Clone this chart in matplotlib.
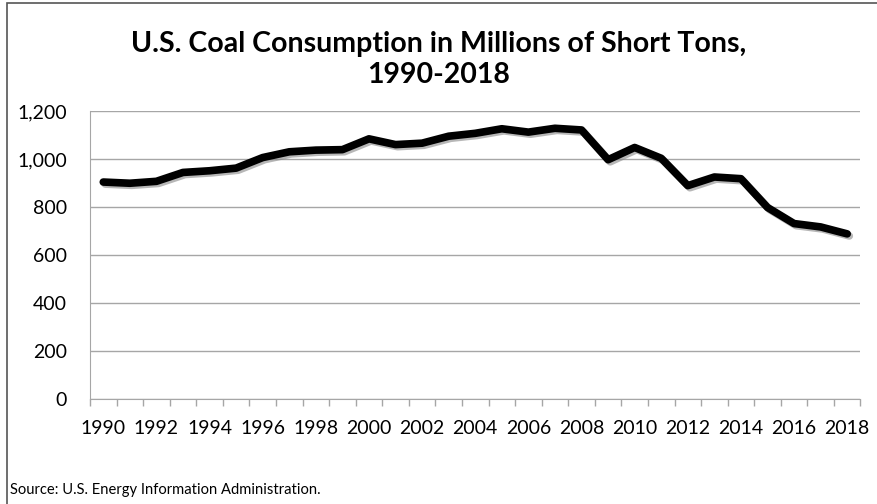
import numpy as np
import matplotlib
matplotlib.use("Agg")
import matplotlib.pyplot as plt
import matplotlib.patheffects as pe
from matplotlib.patches import Rectangle

YEARS = list(range(1990, 2019))
COAL = [904, 899, 907, 944, 951, 962, 1006, 1030, 1037, 1039,
        1084, 1060, 1066, 1095, 1107, 1126, 1112, 1128, 1121, 997,
        1048, 1003, 889, 925, 918, 798, 731, 717, 688]
Y_TICKS = [0, 200, 400, 600, 800, 1000, 1200]

plt.rcParams['font.family'] = ['Lato', 'DejaVu Sans']

fig = plt.figure(figsize=(8.78, 5.04), dpi=100)
fig.patch.set_facecolor('white')

# outer frame, only left and top edges fall inside the picture
fig.patches.append(Rectangle((7 / 878, -0.1), 1.2, 1 - 3 / 504 + 0.1,
                             transform=fig.transFigure, fill=False,
                             edgecolor='#555555', linewidth=1.2))

ax = fig.add_axes([90 / 878, 1 - 399 / 504, (860.5 - 90) / 878, (399 - 111) / 504])
x = np.arange(len(YEARS))
ax.plot(x, COAL, color='black', linewidth=5.5, solid_joinstyle='round',
        solid_capstyle='round',
        path_effects=[pe.SimpleLineShadow(offset=(1.5, -1.5), shadow_color='#888888', alpha=0.6),
                      pe.Normal()])

ax.set_xlim(-0.5, len(YEARS) - 0.5)
ax.set_ylim(0, 1200)
ax.set_yticks(Y_TICKS)
ax.set_yticklabels(['{:,}'.format(v) for v in Y_TICKS], fontsize=14)
ax.yaxis.grid(True, color='#a6a6a6', linewidth=1)
ax.set_axisbelow(True)
ax.tick_params(axis='y', length=0, pad=16.5)

ax.set_xticks(x[::2])
ax.set_xticklabels([str(y) for y in YEARS[::2]], fontsize=14)
ax.set_xticks(np.arange(-0.5, len(YEARS)), minor=True)
ax.tick_params(axis='x', which='major', length=0, pad=15)
ax.tick_params(axis='x', which='minor', length=5, color='#a6a6a6', width=1, direction='out')

for side in ('top', 'right'):
    ax.spines[side].set_visible(False)
ax.spines['left'].set_color('#a6a6a6')
ax.spines['bottom'].set_color('#a6a6a6')

fig.text(0.5, 1 - 44 / 504, 'U.S. Coal Consumption in Millions of Short Tons,',
         ha='center', va='center', fontsize=20.5, fontweight='bold')
fig.text(0.5, 1 - 75 / 504, '1990-2018',
         ha='center', va='center', fontsize=20.5, fontweight='bold')
fig.text(10 / 878, 1 - 490 / 504, 'Source: U.S. Energy Information Administration.',
         ha='left', va='center', fontsize=10.6)

fig.savefig('out.png', dpi=100)
